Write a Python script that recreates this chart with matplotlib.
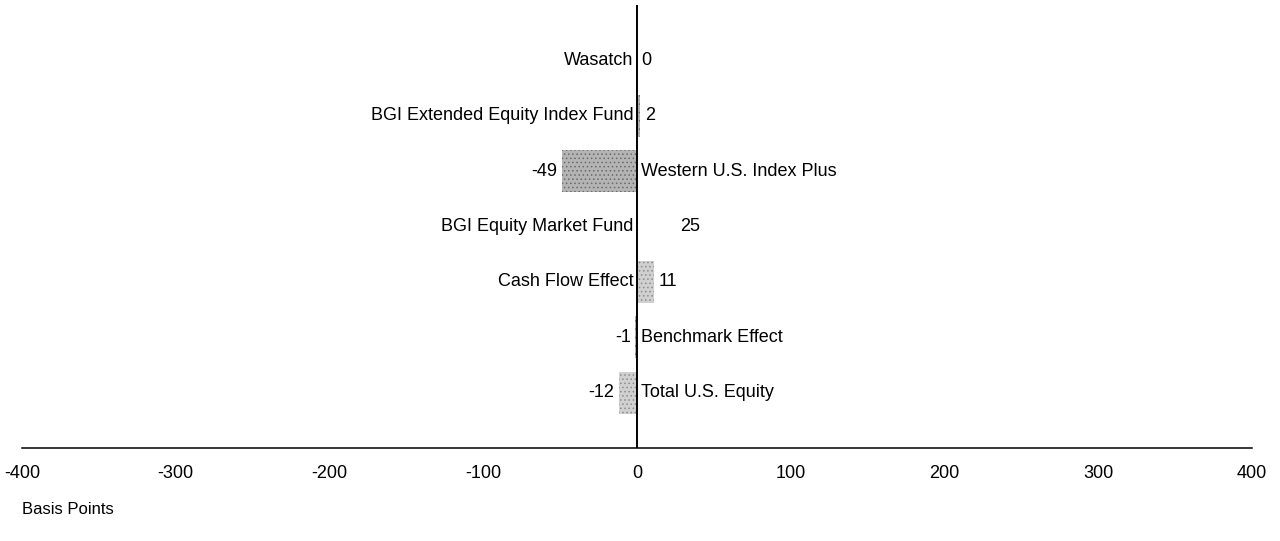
import matplotlib.pyplot as plt
import numpy as np

# donnees
noms = ["Wasatch", "BGI Extended Equity Index Fund", "Western U.S. Index Plus",
        "BGI Equity Market Fund", "Cash Flow Effect", "Benchmark Effect",
        "Total U.S. Equity"]
valeurs = [0, 2, -49, 25, 11, -1, -12]
couleurs = ["#b0b0b0", "#b0b0b0", "#b4b4b4", "white", "#d0d0d0", "#b0b0b0", "#d0d0d0"]
hachures = ["#707070", "#707070", "#6a6a6a", "white", "#8c8c8c", "#707070", "#8c8c8c"]
graduations = [-400, -300, -200, -100, 0, 100, 200, 300, 400]

plt.rcParams["font.family"] = ["Liberation Sans Narrow", "Liberation Sans", "DejaVu Sans"]
plt.rcParams["axes.unicode_minus"] = False
plt.rcParams["hatch.linewidth"] = 0.6

fig = plt.figure(figsize=(12.8, 5.41), dpi=100)
ax = fig.add_axes([22 / 1280, 1 - 448 / 541, 1230 / 1280, 443 / 541])

y = np.arange(len(noms))
barres = ax.barh(y, valeurs, height=0.76, color=couleurs, hatch="....", linewidth=0)
for b, h in zip(barres, hachures):
    b.set_edgecolor(h)

ax.set_xlim(-400, 400)
ax.set_ylim(7, -1)
ax.axvline(0, color="black", lw=1.4)

# etiquettes : nom d'un cote, valeur de l'autre
for i, (n, v) in enumerate(zip(noms, valeurs)):
    if v >= 0:
        ax.text(-2.5, i, n, ha="right", va="center", fontsize=13)
        ax.text(v + 3, i, str(v), ha="left", va="center", fontsize=13)
    else:
        ax.text(2.5, i, n, ha="left", va="center", fontsize=13)
        ax.text(v - 3, i, str(v), ha="right", va="center", fontsize=13)

for s in ["top", "right", "left"]:
    ax.spines[s].set_visible(False)
ax.spines["bottom"].set_linewidth(1.1)
ax.set_yticks([])
ax.set_xticks(graduations)
ax.tick_params(axis="x", length=0, pad=12, labelsize=13)

fig.text(22 / 1280, 1 - 510 / 541, "Basis Points", ha="left", va="center", fontsize=12)

fig.savefig("out.png", dpi=100)
